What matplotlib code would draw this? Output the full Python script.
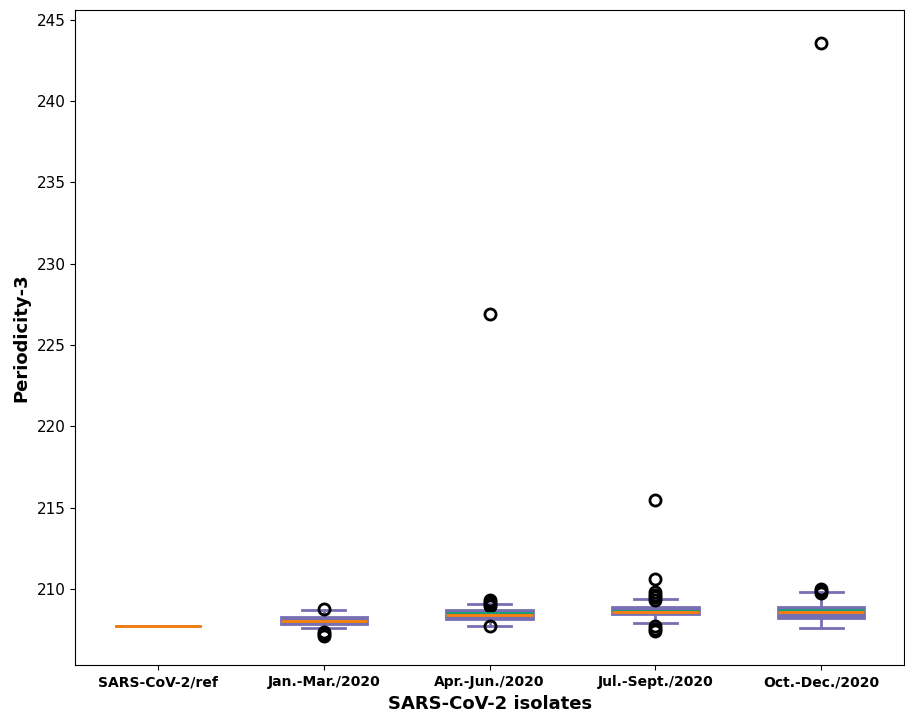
import matplotlib
matplotlib.use("Agg")
import matplotlib.pyplot as plt

# values
labels = ["SARS-CoV-2/ref", "Jan.-Mar./2020", "Apr.-Jun./2020",
          "Jul.-Sept./2020", "Oct.-Dec./2020"]
q1 = [207.7, 207.85, 208.15, 208.45, 208.2]
q3 = [207.7, 208.3, 208.7, 208.9, 208.9]
med = [207.7, 208.0, 208.4, 208.6, 208.6]
mean = [207.7, 208.05, 208.5, 208.65, 208.7]
whislo = [207.7, 207.6, 207.75, 207.9, 207.6]
whishi = [207.7, 208.7, 209.05, 209.4, 209.8]
fliers = [
    [],
    [208.75, 207.35, 207.2, 207.1],
    [226.9, 209.35, 209.2, 209.05, 208.95, 207.7],
    [215.5, 210.6, 209.8, 209.65, 209.5, 209.35, 207.75, 207.55, 207.4],
    [243.6, 210.0, 209.9, 209.75],
]

stats = []
for i, lab in enumerate(labels):
    stats.append(dict(label=lab, q1=q1[i], q3=q3[i], med=med[i], mean=mean[i],
                      whislo=whislo[i], whishi=whishi[i], fliers=fliers[i]))

box_c = "#7570b3"
fig, ax = plt.subplots(figsize=(9.05, 7.17), dpi=100)
ax.bxp(
    stats,
    widths=0.52,
    showmeans=True,
    meanline=True,
    patch_artist=True,
    boxprops=dict(facecolor=box_c, edgecolor=box_c, linewidth=2),
    whiskerprops=dict(color=box_c, linewidth=2),
    capprops=dict(color=box_c, linewidth=2),
    medianprops=dict(color="#ff7f0e", linewidth=2, zorder=2.2),
    meanprops=dict(color="#1b9e77", linewidth=2, linestyle="-", zorder=2.1),
    flierprops=dict(marker="o", markerfacecolor="none", markeredgecolor="black",
                    markersize=8, markeredgewidth=2),
)

ax.set_ylim(205.3, 245.6)
ax.set_yticks([210, 215, 220, 225, 230, 235, 240, 245])
ax.tick_params(axis="y", labelsize=11)
for t in ax.get_xticklabels():
    t.set_fontweight("bold")
    t.set_fontsize(10)
ax.set_xlabel("SARS-CoV-2 isolates", fontsize=13, fontweight="bold")
ax.set_ylabel("Periodicity-3", fontsize=13, fontweight="bold")

fig.subplots_adjust(left=0.083, right=0.999, top=0.986, bottom=0.072)
fig.savefig("out.png", dpi=100)
